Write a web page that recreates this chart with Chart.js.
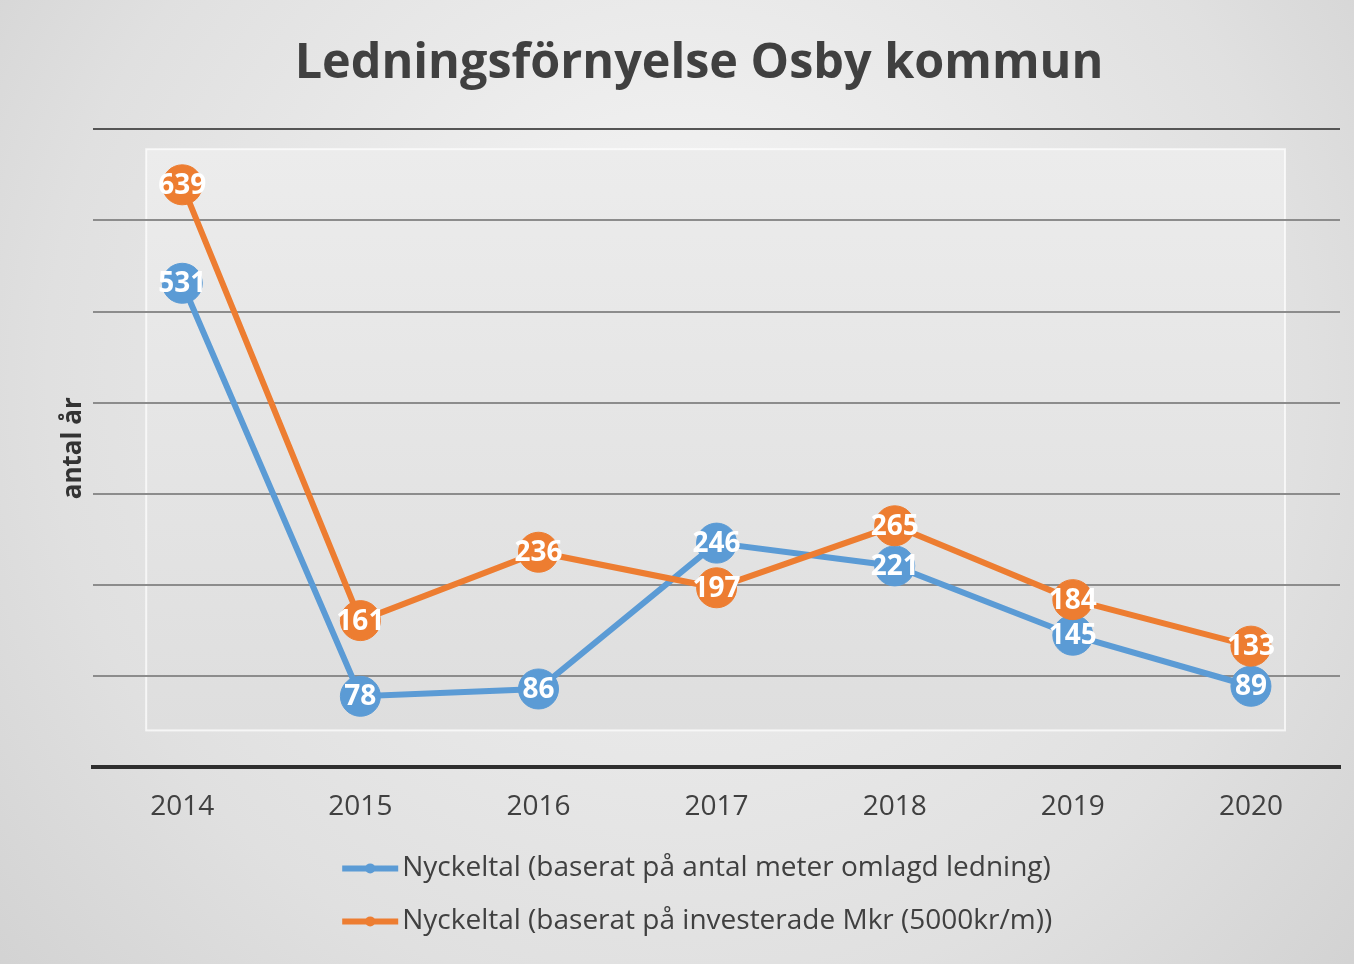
<!DOCTYPE html>
<html lang="sv">
<head>
<meta charset="utf-8">
<title>Ledningsförnyelse Osby kommun</title>
<script src="https://cdn.jsdelivr.net/npm/chart.js@4.4.1/dist/chart.umd.min.js"></script>
<style>
  html, body { margin: 0; padding: 0; background: #e0e0e0; }
  #wrap { width: 1354px; height: 964px; }
</style>
</head>
<body>
<div id="wrap"><canvas id="chart" width="1354" height="964"></canvas></div>
<script>
/* ----------------------------------------------------------
   DATA
---------------------------------------------------------- */
const years = ["2014", "2015", "2016", "2017", "2018", "2019", "2020"];
const meterValues = [531, 78, 86, 246, 221, 145, 89];
const mkrValues = [639, 161, 236, 197, 265, 184, 133];
const yTicks = [0, 100, 200, 300, 400, 500, 600, 700];

const seriesNames = [
  "Nyckeltal (baserat på antal meter omlagd ledning)",
  "Nyckeltal (baserat på investerade Mkr (5000kr/m))"
];

const BLUE = "#5b9bd5";
const ORANGE = "#ed7d31";
const FONT = "'Open Sans', 'Noto Sans', sans-serif";

/* ----------------------------------------------------------
   BACKGROUND (grey card + lighter plot panel)
---------------------------------------------------------- */
const backgroundPlugin = {
  id: "cardBackground",
  beforeDraw(chart) {
    const { ctx, width, height, chartArea: a } = chart;
    ctx.save();
    const g = ctx.createRadialGradient(width / 2, height * 0.3, 50, width / 2, height * 0.45, width * 0.75);
    g.addColorStop(0, "#f3f3f3");
    g.addColorStop(0.6, "#e0e0e0");
    g.addColorStop(1, "#cbcbcb");
    ctx.fillStyle = g;
    ctx.fillRect(0, 0, width, height);

    // inner panel
    const l = a.left + 53, t = a.top + 20, r = a.right - 55, b = a.bottom - 37;
    const pg = ctx.createLinearGradient(0, t, 0, b);
    pg.addColorStop(0, "#ececec");
    pg.addColorStop(1, "#dedede");
    ctx.fillStyle = pg;
    ctx.fillRect(l, t, r - l, b - t);
    ctx.strokeStyle = "rgba(255,255,255,0.7)";
    ctx.lineWidth = 2;
    ctx.strokeRect(l, t, r - l, b - t);
    ctx.restore();
  }
};

/* ----------------------------------------------------------
   VALUE LABELS inside the markers
---------------------------------------------------------- */
const valueLabelPlugin = {
  id: "valueLabels",
  afterDatasetsDraw(chart) {
    const { ctx } = chart;
    ctx.save();
    ctx.font = "bold 28px " + FONT;
    ctx.fillStyle = "#ffffff";
    ctx.textAlign = "center";
    ctx.textBaseline = "middle";
    chart.getSortedVisibleDatasetMetas().slice().reverse().forEach(meta => {
      const values = chart.data.datasets[meta.index].data;
      meta.data.forEach((pt, i) => {
        ctx.fillText(String(values[i]), pt.x, pt.y + 1);
      });
    });
    ctx.restore();
  }
};

/* ----------------------------------------------------------
   LEGEND (two stacked rows, line + dot marker)
---------------------------------------------------------- */
const bottomLegendPlugin = {
  id: "bottomLegend",
  afterDraw(chart) {
    const { ctx, chartArea: a } = chart;
    const x0 = a.left + 249;
    ctx.save();
    ctx.font = "28px " + FONT;
    ctx.textAlign = "left";
    ctx.textBaseline = "middle";
    chart.data.datasets.forEach((ds, i) => {
      const y = a.bottom + 101 + i * 53;
      ctx.strokeStyle = ds.borderColor;
      ctx.lineWidth = 6;
      ctx.beginPath();
      ctx.moveTo(x0, y);
      ctx.lineTo(x0 + 56, y);
      ctx.stroke();
      ctx.fillStyle = ds.borderColor;
      ctx.beginPath();
      ctx.arc(x0 + 28, y, 5, 0, Math.PI * 2);
      ctx.fill();
      ctx.fillStyle = "#404040";
      ctx.fillText(ds.label, x0 + 60, y);
    });
    ctx.restore();
  }
};

/* ----------------------------------------------------------
   CHART
---------------------------------------------------------- */
new Chart(document.getElementById("chart"), {
  type: "line",
  data: {
    labels: years,
    datasets: [
      {
        label: seriesNames[0],
        data: meterValues,
        borderColor: BLUE,
        backgroundColor: BLUE,
        borderWidth: 6,
        pointRadius: 20,
        pointBorderWidth: 1,
        pointBackgroundColor: BLUE,
        pointBorderColor: BLUE,
        tension: 0,
        order: 1
      },
      {
        label: seriesNames[1],
        data: mkrValues,
        borderColor: ORANGE,
        backgroundColor: ORANGE,
        borderWidth: 6,
        pointRadius: 20,
        pointBorderWidth: 1,
        pointBackgroundColor: ORANGE,
        pointBorderColor: ORANGE,
        tension: 0,
        order: 0
      }
    ]
  },
  options: {
    responsive: false,
    animation: false,
    layout: { autoPadding: false, padding: { top: 10, left: 58, right: 14, bottom: 117 } },
    scales: {
      x: {
        offset: true,
        grid: { display: false, drawTicks: false },
        border: { display: true, color: "#2e2e2e", width: 4 },
        ticks: {
          color: "#404040",
          padding: 23,
          font: { family: FONT, size: 28 }
        },
        afterFit: scale => {
          scale.paddingLeft = 0;
          scale.paddingRight = 0;
        }
      },
      y: {
        min: yTicks[0],
        max: yTicks[yTicks.length - 1],
        afterBuildTicks: scale => {
          scale.ticks = yTicks.map(v => ({ value: v }));
        },
        grid: {
          drawTicks: false,
          lineWidth: 2,
          color: ctx => (ctx.tick && ctx.tick.value === yTicks[yTicks.length - 1]) ? "#555555" : "#8c8c8c"
        },
        border: { display: false },
        ticks: { display: false },
        title: {
          display: true,
          text: "antal år",
          color: "#333333",
          padding: { top: 0, bottom: 4 },
          font: { family: FONT, size: 26, weight: "bold" }
        }
      }
    },
    plugins: {
      title: {
        display: true,
        text: "Ledningsförnyelse Osby kommun",
        color: "#404040",
        padding: { top: 25, bottom: 36 },
        font: { family: FONT, size: 48.5, weight: "bold" }
      },
      legend: { display: false },
      tooltip: { enabled: false }
    }
  },
  plugins: [backgroundPlugin, valueLabelPlugin, bottomLegendPlugin]
});
</script>
</body>
</html>
